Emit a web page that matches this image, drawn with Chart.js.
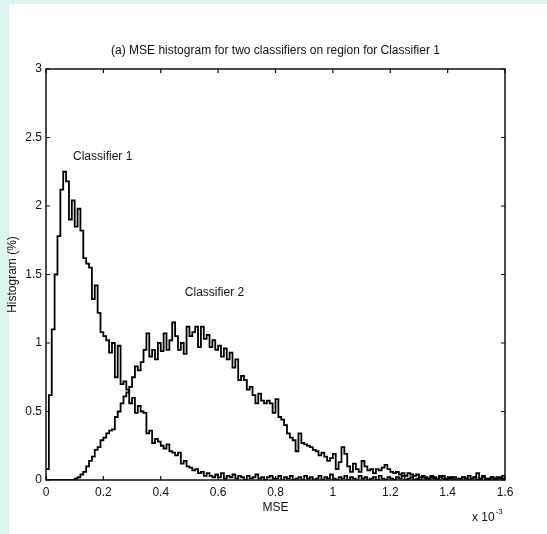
<!DOCTYPE html>
<html>
<head>
<meta charset="utf-8">
<title>MSE histogram</title>
<script src="https://cdn.jsdelivr.net/npm/chart.js@4.4.1/dist/chart.umd.min.js"></script>
<style>
  html, body { margin: 0; padding: 0; background: #dcf5f1; }
  #wrap { width: 547px; height: 534px; }
</style>
</head>
<body>
<div id="wrap"><canvas id="mseChart" width="547" height="534"></canvas></div>
<script>
// histogram bins are 0.01 (x 10^-3) wide, starting at 0
const binWidth = 0.01;

const classifier1 = [
  0.08, 0.62, 1.10, 1.50, 1.78, 2.12, 2.25, 2.18, 1.90, 2.04,
  1.85, 1.98, 1.82, 1.62, 1.58, 1.55, 1.32, 1.42, 1.22, 1.08,
  1.05, 1.02, 0.93, 1.00, 0.75, 0.98, 0.70, 0.72, 0.66, 0.56,
  0.60, 0.49, 0.54, 0.50, 0.49, 0.34, 0.36, 0.27, 0.30, 0.28,
  0.25, 0.23, 0.26, 0.21, 0.20, 0.18, 0.20, 0.12, 0.14, 0.10,
  0.09, 0.07, 0.08, 0.05, 0.06, 0.03, 0.05, 0.03, 0.02, 0.04,
  0.02, 0.05, 0.01, 0.03, 0.02, 0.04, 0.01, 0.03, 0.02, 0.00,
  0.03, 0.01, 0.02, 0.04, 0.01, 0.02, 0.00, 0.02, 0.03, 0.01,
  0.01, 0.03, 0.00, 0.02, 0.01, 0.03, 0.00, 0.01, 0.02, 0.00,
  0.03, 0.01, 0.02, 0.00, 0.01, 0.03, 0.00, 0.02, 0.01, 0.04,
  0.01, 0.00, 0.02, 0.01, 0.03, 0.00, 0.02, 0.01, 0.00, 0.03,
  0.01, 0.02, 0.00, 0.01, 0.02, 0.00, 0.03, 0.01, 0.00, 0.02,
  0.01, 0.00, 0.02, 0.01, 0.03, 0.00, 0.01, 0.02, 0.00, 0.01,
  0.00, 0.02, 0.01, 0.00, 0.02, 0.01, 0.00, 0.03, 0.01, 0.00,
  0.01, 0.02, 0.00, 0.01, 0.00, 0.02, 0.01, 0.00, 0.01, 0.02,
  0.00, 0.01, 0.03, 0.00, 0.01, 0.02, 0.00, 0.01, 0.02, 0.01
];

const classifier2 = [
  0.00, 0.00, 0.00, 0.00, 0.00, 0.00, 0.00, 0.00, 0.00, 0.00,
  0.01, 0.02, 0.04, 0.06, 0.10, 0.14, 0.17, 0.22, 0.24, 0.29,
  0.31, 0.34, 0.36, 0.37, 0.46, 0.50, 0.56, 0.61, 0.64, 0.68,
  0.75, 0.83, 0.80, 0.86, 0.95, 1.07, 0.90, 0.95, 0.88, 1.00,
  0.94, 1.07, 0.95, 1.02, 1.15, 1.05, 0.95, 1.00, 0.92, 1.12,
  1.05, 1.08, 1.12, 0.97, 1.12, 1.03, 1.06, 0.97, 1.02, 0.95,
  0.98, 0.90, 0.96, 0.88, 0.93, 0.82, 0.88, 0.73, 0.76, 0.73,
  0.66, 0.68, 0.62, 0.56, 0.63, 0.58, 0.56, 0.58, 0.56, 0.49,
  0.59, 0.46, 0.44, 0.40, 0.34, 0.31, 0.29, 0.21, 0.34, 0.27,
  0.26, 0.25, 0.24, 0.22, 0.21, 0.18, 0.20, 0.17, 0.14, 0.16,
  0.19, 0.08, 0.13, 0.24, 0.19, 0.10, 0.06, 0.12, 0.08, 0.06,
  0.14, 0.10, 0.07, 0.08, 0.05, 0.08, 0.07, 0.09, 0.11, 0.08,
  0.06, 0.05, 0.06, 0.04, 0.05, 0.03, 0.05, 0.04, 0.03, 0.04,
  0.02, 0.03, 0.02, 0.01, 0.03, 0.02, 0.01, 0.02, 0.03, 0.01,
  0.02, 0.01, 0.02, 0.00, 0.01, 0.02, 0.01, 0.03, 0.01, 0.02,
  0.05, 0.01, 0.02, 0.01, 0.00, 0.02, 0.01, 0.02, 0.01, 0.03
];

const xTickLabels = ['0', '0.2', '0.4', '0.6', '0.8', '1', '1.2', '1.4', '1.6'];
const yTickLabels = ['0', '0.5', '1', '1.5', '2', '2.5', '3'];

const titleText = '(a) MSE histogram for two classifiers on region for Classifier 1';
const curveLabels = [
  { text: 'Classifier 1', x: 0.094, y: 2.36 },
  { text: 'Classifier 2', x: 0.484, y: 1.37 }
];

const FONT = '"Liberation Sans", Arial, Helvetica, sans-serif';
const INK = '#111';

// stairs: each bin value is held from its left edge to the next one
function toStairs(values) {
  const pts = values.map((v, i) => ({ x: i * binWidth, y: v }));
  pts.push({ x: values.length * binWidth, y: values[values.length - 1] });
  return pts;
}

// white sheet, MATLAB style box with inward ticks, and the texts
const matlabFrame = {
  id: 'matlabFrame',
  beforeDraw(chart) {
    const c = chart.ctx;
    c.save();
    c.fillStyle = '#dcf5f1';
    c.fillRect(0, 0, chart.width, chart.height);
    c.fillStyle = '#fff';
    c.fillRect(9, 4, chart.width - 9, chart.height - 4);
    c.restore();
  },
  afterDatasetsDraw(chart) {
    const { ctx: c, chartArea: a, scales: { x, y } } = chart;
    const tl = 4;
    c.save();
    c.strokeStyle = INK;
    c.lineWidth = 1.5;
    c.strokeRect(a.left, a.top, a.right - a.left, a.bottom - a.top);

    c.lineWidth = 1.2;
    c.beginPath();
    x.ticks.forEach(t => {
      const px = x.getPixelForValue(t.value);
      c.moveTo(px, a.bottom); c.lineTo(px, a.bottom - tl);
      c.moveTo(px, a.top); c.lineTo(px, a.top + tl);
    });
    y.ticks.forEach(t => {
      const py = y.getPixelForValue(t.value);
      c.moveTo(a.left, py); c.lineTo(a.left + tl, py);
      c.moveTo(a.right, py); c.lineTo(a.right - tl, py);
    });
    c.stroke();

    c.fillStyle = INK;
    c.font = '12px ' + FONT;
    c.textBaseline = 'middle';
    c.textAlign = 'center';
    c.fillText(titleText, (a.left + a.right) / 2, 51);
    c.fillText('MSE', (a.left + a.right) / 2, 508);

    c.textAlign = 'left';
    curveLabels.forEach(l => {
      c.fillText(l.text, x.getPixelForValue(l.x), y.getPixelForValue(l.y));
    });

    // exponent note under the right end of the x axis
    const base = 'x 10';
    c.fillText(base, 472, 518);
    const bw = c.measureText(base).width;
    c.font = '8px ' + FONT;
    c.fillText('-3', 472 + bw + 1, 512);

    c.font = '12px ' + FONT;
    c.translate(13, (a.top + a.bottom) / 2);
    c.rotate(-Math.PI / 2);
    c.textAlign = 'center';
    c.fillText('Histogram (%)', 0, 0);
    c.restore();
  }
};

new Chart(document.getElementById('mseChart'), {
  type: 'line',
  data: {
    datasets: [
      { label: 'Classifier 1', data: toStairs(classifier1) },
      { label: 'Classifier 2', data: toStairs(classifier2) }
    ]
  },
  options: {
    responsive: false,
    animation: false,
    layout: { padding: { top: 69, right: 42, left: 0, bottom: 0 } },
    elements: {
      line: { borderColor: '#000', borderWidth: 1.8, stepped: 'before', tension: 0, fill: false },
      point: { radius: 0 }
    },
    plugins: {
      legend: { display: false },
      tooltip: { enabled: false }
    },
    scales: {
      x: {
        type: 'linear',
        min: 0,
        max: 1.6,
        grid: { display: false, drawTicks: false },
        border: { display: false },
        ticks: {
          stepSize: 0.2,
          autoSkip: false,
          maxRotation: 0,
          padding: 5,
          color: INK,
          font: { family: FONT, size: 12 },
          callback: (v, i) => xTickLabels[i]
        },
        afterFit(s) { s.height = 54; s.paddingLeft = 0; s.paddingRight = 0; }
      },
      y: {
        min: 0,
        max: 3,
        grid: { display: false, drawTicks: false },
        border: { display: false },
        ticks: {
          stepSize: 0.5,
          padding: 4,
          color: INK,
          font: { family: FONT, size: 12 },
          callback: (v, i) => yTickLabels[i]
        },
        afterFit(s) { s.width = 46; s.paddingTop = 0; s.paddingBottom = 0; }
      }
    }
  },
  plugins: [matlabFrame]
});
</script>
</body>
</html>
